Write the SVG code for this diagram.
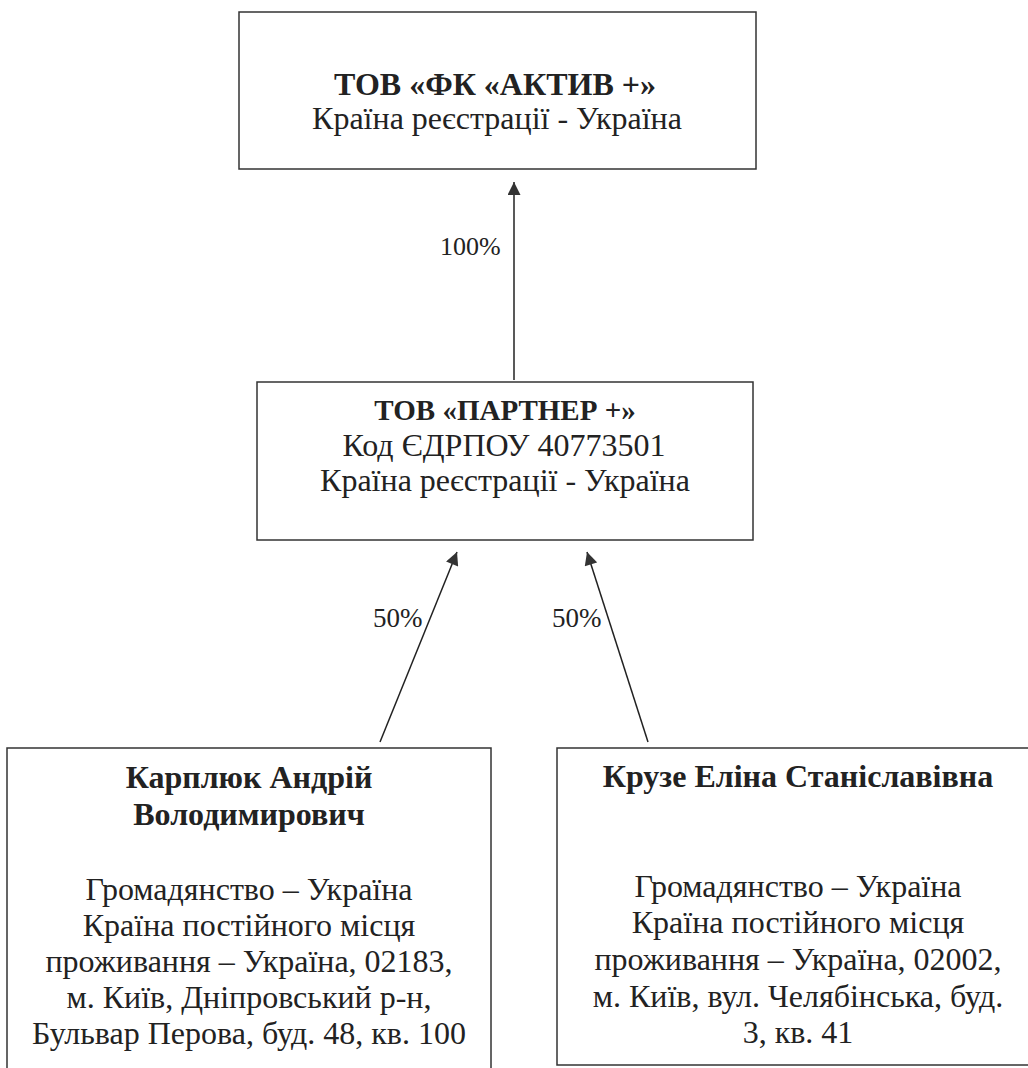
<svg xmlns="http://www.w3.org/2000/svg" width="1028" height="1068" viewBox="0 0 1028 1068">
<style>
.box{fill:none;stroke:#333;stroke-width:1.5}
.t{font-family:"Liberation Serif","DejaVu Serif","Times New Roman",serif;font-size:32px;fill:#222;text-anchor:middle}
.b{font-weight:bold}
.lbl{font-family:"Liberation Serif","DejaVu Serif","Times New Roman",serif;font-size:26px;fill:#222}
.c{stroke:#222;stroke-width:1.5;fill:none;marker-end:url(#ah)}
</style>
<defs>
<marker id="ah" viewBox="0 0 10 10" refX="10" refY="5" markerWidth="16" markerHeight="13" markerUnits="userSpaceOnUse" orient="auto">
<path d="M0,0 L10,5 L0,10 z" fill="#333"/>
</marker>
</defs>
<rect width="1028" height="1068" fill="#fff"/>
<g id="n-aktiv">
<rect class="box" x="239" y="12" width="517" height="157"/>
<text class="t b" x="495" y="95">ТОВ «ФК «АКТИВ +»</text>
<text class="t" x="497" y="129">Країна реєстрації - Україна</text>
</g>
<g id="n-partner">
<rect class="box" x="257" y="382" width="496" height="158"/>
<text class="t b" x="505" y="420" style="font-size:29px">ТОВ «ПАРТНЕР +»</text>
<text class="t" x="504" y="456">Код ЄДРПОУ 40773501</text>
<text class="t" x="505" y="491">Країна реєстрації - Україна</text>
</g>
<g id="n-karpliuk">
<rect class="box" x="7" y="748" width="484" height="330"/>
<text class="t b" x="249" y="788">Карплюк Андрій</text>
<text class="t b" x="249" y="825">Володимирович</text>
<text class="t" x="249" y="900">Громадянство – Україна</text>
<text class="t" x="249" y="936">Країна постійного місця</text>
<text class="t" x="249" y="972">проживання – Україна, 02183,</text>
<text class="t" x="249" y="1008">м. Київ, Дніпровський р-н,</text>
<text class="t" x="249" y="1044">Бульвар Перова, буд. 48, кв. 100</text>
</g>
<g id="n-kruze">
<rect class="box" x="557" y="748" width="482" height="317"/>
<text class="t b" x="798" y="787">Крузе Еліна Станіславівна</text>
<text class="t" x="798" y="897">Громадянство – Україна</text>
<text class="t" x="798" y="933">Країна постійного місця</text>
<text class="t" x="798" y="970">проживання – Україна, 02002,</text>
<text class="t" x="798" y="1007">м. Київ, вул. Челябінська, буд.</text>
<text class="t" x="798" y="1043">3, кв. 41</text>
</g>
<g id="connectors">
<line class="c" x1="514" y1="380" x2="514" y2="182"/>
<line class="c" x1="380" y1="742" x2="457" y2="552"/>
<line class="c" x1="648" y1="742" x2="587" y2="552"/>
<text class="lbl" x="440" y="255">100%</text>
<text class="lbl" x="373" y="627" style="font-size:27px">50%</text>
<text class="lbl" x="552" y="627" style="font-size:27px">50%</text>
</g>
</svg>
